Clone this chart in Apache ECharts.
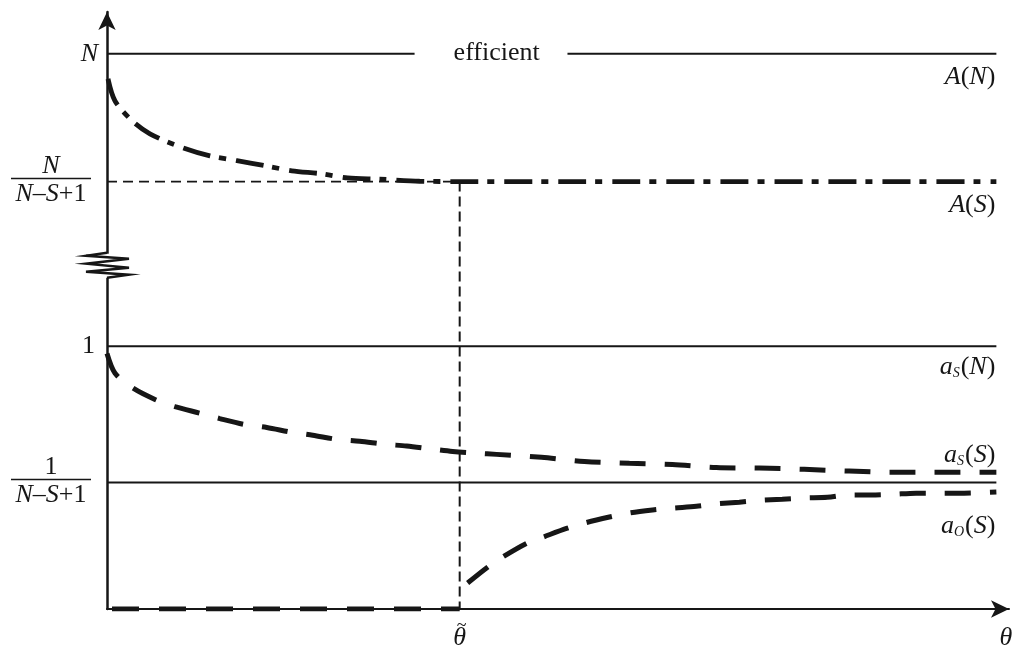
<!DOCTYPE html>
<html><head><meta charset="utf-8">
<script src="https://cdn.jsdelivr.net/npm/echarts@6/dist/echarts.min.js"></script>
<style>html,body{margin:0;padding:0;background:#fff}#c{width:1024px;height:655px}
.pre{position:absolute;left:-9999px;top:0;font-family:'Liberation Serif';font-size:26px}</style>
</head><body>
<span class="pre">efficient 1</span><span class="pre" style="font-style:italic">A N S a θ</span>
<div id="c"></div>
<script>
// ---- levels (axis units: x 0..100, y 0..100) ----
const levelN = 93.0;          // N
const levelAS = 71.6;         // N/(N−S+1)
const levelOne = 44.0;        // 1
const levelLow = 21.2;        // 1/(N−S+1)
const breakLevel = 57.5;      // axis break
const thetaTilde = 39.1;      // θ̃
const xEnd = 98.6;
const efficientGap = [34.1, 51.05];
const efficientX = 43.2;

// A(S): dash-dot curve
const curveA_x = [0.11, 0.89, 2.77, 4.76, 8.31, 11.41, 14.40, 17.72, 20.49, 23.81, 26.69, 30.23, 34.66, 39.1, 98.6];
const curveA_y = [88.8, 85.1, 81.8, 79.6, 77.3, 75.9, 75.1, 74.2, 73.4, 72.9, 72.2, 72.0, 71.65, 71.6, 71.6];

// a_S(S): dashed curve
const curveS_x = [0, 0.89, 2.77, 5.32, 7.53, 10.30, 12.51, 15.28, 17.72, 20.49, 22.81, 25.58, 28.02, 30.79, 33.22, 35.99, 38.32, 41.09, 43.19, 48.17, 52.93, 57.92, 62.68, 67.55, 72.31, 77.30, 82.28, 87.04, 91.92, 98.6];
const curveS_y = [42.8, 39.5, 37.1, 35.1, 33.9, 32.8, 31.9, 30.9, 30.4, 29.6, 29.1, 28.4, 28.1, 27.6, 27.3, 26.8, 26.4, 26.1, 25.9, 25.4, 24.7, 24.4, 24.2, 23.7, 23.6, 23.4, 23.1, 22.9, 22.9, 22.9];

// a_O(S): dashed curve
const curveO_x = [39.98, 42.19, 43.85, 46.51, 48.28, 50.94, 52.93, 55.70, 57.92, 60.47, 62.68, 65.34, 67.55, 70.10, 72.31, 74.86, 77.30, 79.85, 82.28, 84.72, 87.04, 89.70, 91.92, 94.46, 98.6];
const curveO_y = [4.35, 7.0, 8.7, 11.0, 12.0, 13.5, 14.4, 15.4, 16.1, 16.6, 16.9, 17.2, 17.6, 17.9, 18.2, 18.4, 18.6, 18.7, 19.1, 19.1, 19.2, 19.4, 19.4, 19.4, 19.6];

// label texts (fragments: [text, style]; i = italic, r = roman, s = subscript)
const labelN = [['N', 'i']];
const labelOne = [['1', 'r']];
const denom = [['N', 'i'], ['–', 'r'], ['S', 'i'], ['+1', 'r']];
const labelAN = [['A', 'i'], ['(', 'r'], ['N', 'i'], [')', 'r']];
const labelAS = [['A', 'i'], ['(', 'r'], ['S', 'i'], [')', 'r']];
const labelaSN = [['a', 'i'], ['S', 's'], ['(', 'r'], ['N', 'i'], [')', 'r']];
const labelaSS = [['a', 'i'], ['S', 's'], ['(', 'r'], ['S', 'i'], [')', 'r']];
const labelaOS = [['a', 'i'], ['O', 's'], ['(', 'r'], ['S', 'i'], [')', 'r']];
const labelEff = [['efficient', 'r']];
const labelTheta = [['θ', 'i']];
const labelTilde = [['~', 't']];

const INK = '#161616';
const zip = (xs, ys) => xs.map((x, i) => [x, ys[i]]);

const chart = echarts.init(document.getElementById('c'), null, {renderer: 'canvas'});

function lineSeries(data, width, type, extra) {
  return Object.assign({
    type: 'line', data: data, symbol: 'none', silent: true, animation: false,
    lineStyle: {color: INK, width: width, type: type, cap: 'butt'}, z: 3
  }, extra || {});
}

const baseOption = {
  animation: false,
  backgroundColor: '#fff',
  grid: {left: 107, right: 15, top: 12, bottom: 46},
  xAxis: {
    type: 'value', min: 0, max: 100,
    axisLine: {show: true, symbol: ['none', 'arrow'], symbolSize: [13, 18], lineStyle: {color: INK, width: 2}},
    axisTick: {show: false}, axisLabel: {show: false}, splitLine: {show: false}
  },
  yAxis: {
    type: 'value', min: 0, max: 100,
    axisLine: {show: true, symbol: ['none', 'arrow'], symbolSize: [13, 18], lineStyle: {color: INK, width: 2.5}},
    axisTick: {show: false}, axisLabel: {show: false}, splitLine: {show: false}
  },
  series: [
    lineSeries([[0, levelN], [efficientGap[0], levelN]], 2, 'solid'),
    lineSeries([[efficientGap[1], levelN], [xEnd, levelN]], 2, 'solid'),
    lineSeries([[0, levelOne], [xEnd, levelOne]], 2, 'solid'),
    lineSeries([[0, levelLow], [xEnd, levelLow]], 2, 'solid'),
    lineSeries([[0, levelAS], [thetaTilde, levelAS]], 1.8, [10, 6]),
    lineSeries([[thetaTilde, levelAS], [thetaTilde, 0]], 2, [10, 5]),
    lineSeries(zip(curveA_x, curveA_y), 4.8, [28, 9, 7, 10], {smooth: 0.3}),
    lineSeries(zip(curveS_x, curveS_y), 5, [26, 19], {smooth: 0.3}),
    lineSeries(zip(curveO_x, curveO_y), 5, [26, 19], {smooth: 0.3}),
    lineSeries([[0, 0], [thetaTilde, 0]], 5, [27, 20], {lineStyle: {color: INK, width: 5, type: [27, 20], dashOffset: -5}})
  ]
};

const FAM = 'Liberation Serif';
const FONTS = {
  i: {font: 'italic 26px ' + FAM, size: 26, dy: 0},
  r: {font: '26px ' + FAM, size: 26, dy: 0},
  s: {font: 'italic 14px ' + FAM, size: 14, dy: 6},
  t: {font: '18px ' + FAM, size: 18, dy: 0}
};
const measureCtx = document.createElement('canvas').getContext('2d');
function widthOf(t, st) { measureCtx.font = FONTS[st].font; return measureCtx.measureText(t).width; }

function render() {
  chart.setOption(baseOption, true);
  const px = (x, y) => chart.convertToPixel({gridIndex: 0}, [x, y]);
  const g = [];
  function run(frags, x, cy, align) {
    const widths = frags.map(f => widthOf(f[0], f[1]) + (f[1] === 's' ? 1 : 0));
    const total = widths.reduce((a, b) => a + b, 0);
    let cx = align === 'right' ? x - total : align === 'center' ? x - total / 2 : x;
    frags.forEach((f, k) => {
      const F = FONTS[f[1]];
      g.push({type: 'text', z: 100, silent: true, style: {
        text: f[0], x: cx, y: cy + F.dy - F.size / 2, font: F.font, fill: INK
      }});
      cx += widths[k];
    });
  }
  const axisX = px(0, 0)[0];
  const xRight = px(xEnd, 0)[0] - 1;

  run(labelN, axisX - 9, px(0, levelN)[1], 'right');
  run(labelOne, axisX - 12, px(0, levelOne)[1], 'right');

  function fraction(num, y) {
    const cx = 51;
    run(num, cx, y - 15, 'center');
    g.push({type: 'line', z: 100, shape: {x1: 11, y1: y - 3, x2: 91, y2: y - 3}, style: {stroke: INK, lineWidth: 1.6}});
    run(denom, cx, y + 13, 'center');
  }
  fraction(labelN, px(0, levelAS)[1]);
  fraction(labelOne, px(0, levelLow)[1]);

  run(labelAN, xRight, px(0, levelN)[1] + 23, 'right');
  run(labelAS, xRight, px(0, levelAS)[1] + 24, 'right');
  run(labelaSN, xRight, px(0, levelOne)[1] + 21, 'right');
  run(labelaSS, xRight, px(0, levelLow)[1] - 27, 'right');
  run(labelaOS, xRight, px(0, levelLow)[1] + 44, 'right');

  const pe = px(efficientX, levelN);
  run(labelEff, pe[0], pe[1] - 1, 'center');

  const pt = px(thetaTilde, 0);
  run(labelTheta, pt[0], pt[1] + 29, 'center');
  run(labelTilde, pt[0] + 2, pt[1] + 17, 'center');
  run(labelTheta, 1006, pt[1] + 29, 'center');

  const pb = px(0, breakLevel);
  g.push({type: 'rect', z: 99, shape: {x: axisX - 3, y: pb[1] - 12, width: 6, height: 24}, style: {fill: '#fff'}});
  const zz = [[0, -13], [-21, -10], [22, -7], [-21, -2], [22, 2], [-21, 6], [22, 9], [0, 12]];
  g.push({type: 'polyline', z: 100, shape: {points: zz.map(p => [axisX + p[0], pb[1] + p[1]])}, style: {stroke: INK, lineWidth: 2.4, fill: null}});

  chart.setOption({graphic: g});
}

render();
if (document.fonts && document.fonts.load) {
  Promise.all([
    document.fonts.load('26px ' + FAM),
    document.fonts.load('italic 26px ' + FAM),
    document.fonts.load('italic 14px ' + FAM)
  ]).then(render, render);
  document.fonts.ready.then(render);
}
setTimeout(render, 150);
setTimeout(render, 600);
</script>
</body></html>
